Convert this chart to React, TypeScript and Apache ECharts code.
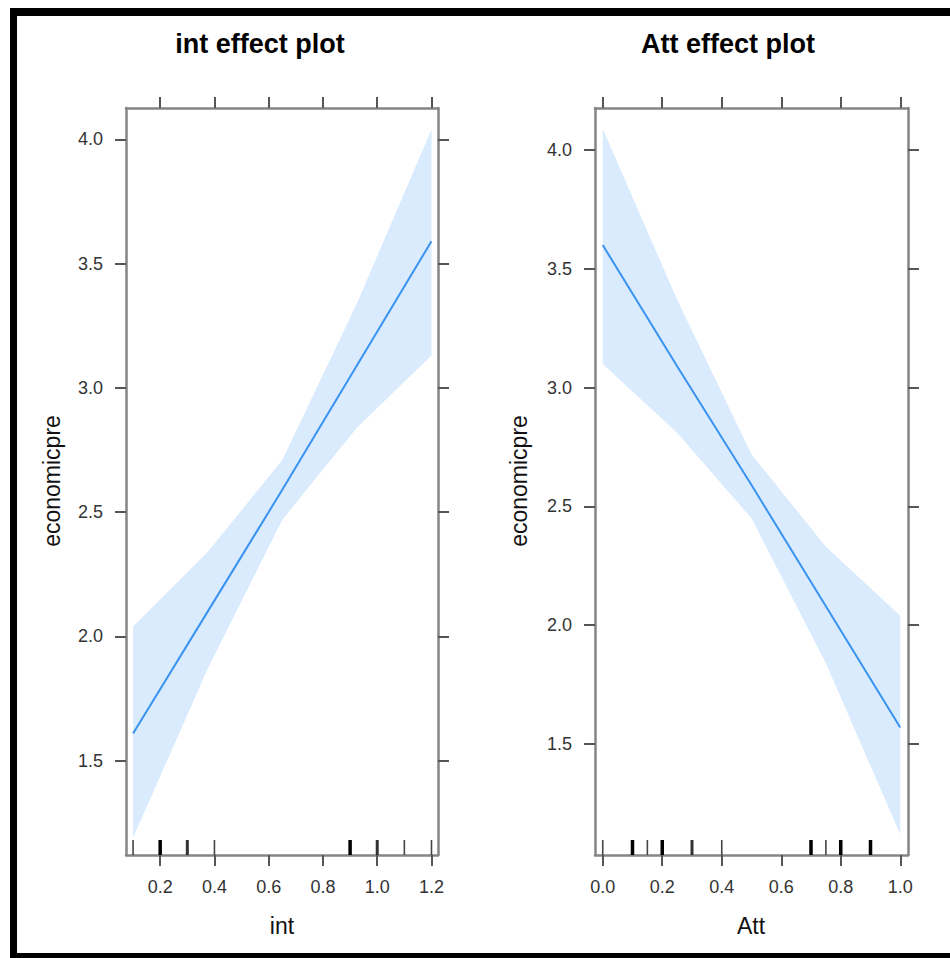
import React, { useEffect, useRef } from "react";
import * as echarts from "echarts";

// ---- int panel data ----
const intX = [0.1, 0.375, 0.65, 0.925, 1.2];
const intFit = [1.61, 2.1, 2.59, 3.09, 3.59];
const intUpper = [2.04, 2.34, 2.71, 3.34, 4.04];
const intLower = [1.19, 1.87, 2.47, 2.84, 3.13];
const intRug = [0.1, 0.2, 0.3, 0.4, 0.9, 1.0, 1.1, 1.2];
const intRugCount = [1, 3, 2, 1, 3, 2, 1, 1];
const intTicks = [0.2, 0.4, 0.6, 0.8, 1.0, 1.2];

// ---- Att panel data ----
const attX = [0, 0.25, 0.5, 0.75, 1.0];
const attFit = [3.6, 3.09, 2.59, 2.08, 1.57];
const attUpper = [4.09, 3.37, 2.72, 2.33, 2.04];
const attLower = [3.1, 2.81, 2.45, 1.84, 1.12];
const attRug = [0, 0.1, 0.15, 0.2, 0.3, 0.4, 0.7, 0.75, 0.8, 0.9];
const attRugCount = [1, 3, 1, 3, 2, 1, 3, 1, 3, 3];
const attTicks = [0, 0.2, 0.4, 0.6, 0.8, 1.0];

const yTicks = [1.5, 2.0, 2.5, 3.0, 3.5, 4.0];

const FONT = '"Liberation Sans", Arial, Helvetica, sans-serif';
const FRAME = "#858585";
const TICK = "#555555";

function axisBase(min: number, max: number, ticks: number[], showLabels: boolean, extra: any) {
  return {
    type: "value",
    min,
    max,
    splitLine: { show: false },
    axisLine: { show: true, onZero: false, lineStyle: { color: FRAME, width: 2.5 } },
    axisTick: { show: true, inside: false, length: 11, customValues: ticks, lineStyle: { color: TICK, width: 2 } },
    axisLabel: {
      show: showLabels,
      customValues: ticks,
      formatter: (v: number) => Number(v).toFixed(1),
      color: "#333333",
      fontFamily: FONT,
      fontSize: 18,
      margin: 23,
    },
    ...extra,
  };
}

function bandSeries(xs: number[], lo: number[], hi: number[], idx: number) {
  return {
    type: "custom",
    xAxisIndex: idx,
    yAxisIndex: idx,
    silent: true,
    z: 1,
    data: [[xs[0], lo[0]]],
    renderItem: (_params: any, api: any) => {
      const pts: number[][] = [];
      for (let i = 0; i < xs.length; i++) pts.push(api.coord([xs[i], hi[i]]));
      for (let i = xs.length - 1; i >= 0; i--) pts.push(api.coord([xs[i], lo[i]]));
      return { type: "polygon", shape: { points: pts }, style: { fill: "#d9ebfd", stroke: null } };
    },
  };
}

function lineSeries(xs: number[], ys: number[], idx: number) {
  return {
    type: "line",
    xAxisIndex: idx,
    yAxisIndex: idx,
    symbol: "none",
    silent: true,
    z: 3,
    lineStyle: { color: "#3a93f0", width: 2 },
    data: xs.map((x, i) => [x, ys[i]]),
  };
}

function rugSeries(vals: number[], counts: number[], idx: number, yRef: number) {
  return {
    type: "custom",
    xAxisIndex: idx,
    yAxisIndex: idx,
    silent: true,
    z: 4,
    data: vals.map((v, i) => [v, counts[i]]),
    renderItem: (params: any, api: any) => {
      const v = api.value(0);
      const c = api.value(1);
      const p = api.coord([v, yRef]);
      const yb = params.coordSys.y + params.coordSys.height;
      const w = c >= 3 ? 3.5 : c === 2 ? 3 : 1.6;
      const col = c >= 3 ? "#000000" : c === 2 ? "#333333" : "#444444";
      return {
        type: "line",
        shape: { x1: p[0], y1: yb, x2: p[0], y2: yb - 15 },
        style: { stroke: col, lineWidth: w },
      };
    },
  };
}

export default function App() {
  const ref = useRef<HTMLDivElement>(null);
  useEffect(() => {
    document.body.style.margin = "0";
    if (!ref.current) return;
    const chart = echarts.init(ref.current, null, { renderer: "svg" });
    const lxMin = 0.074, lxMax = 1.224, lyMin = 1.121, lyMax = 4.126;
    const rxMin = -0.026, rxMax = 1.026, ryMin = 1.033, ryMax = 4.177;
    const option: any = {
      animation: false,
      backgroundColor: "#ffffff",
      grid: [
        { left: 126, top: 108, width: 312, height: 747 },
        { left: 595, top: 108, width: 313, height: 747 },
      ],
      xAxis: [
        axisBase(lxMin, lxMax, intTicks, true, { gridIndex: 0, position: "bottom" }),
        axisBase(lxMin, lxMax, intTicks, false, { gridIndex: 0, position: "top" }),
        axisBase(rxMin, rxMax, attTicks, true, { gridIndex: 1, position: "bottom" }),
        axisBase(rxMin, rxMax, attTicks, false, { gridIndex: 1, position: "top" }),
      ],
      yAxis: [
        axisBase(lyMin, lyMax, yTicks, true, { gridIndex: 0, position: "left" }),
        axisBase(lyMin, lyMax, yTicks, false, { gridIndex: 0, position: "right" }),
        axisBase(ryMin, ryMax, yTicks, true, { gridIndex: 1, position: "left" }),
        axisBase(ryMin, ryMax, yTicks, false, { gridIndex: 1, position: "right" }),
      ],
      series: [
        bandSeries(intX, intLower, intUpper, 0),
        lineSeries(intX, intFit, 0),
        rugSeries(intRug, intRugCount, 0, 2),
        bandSeries(attX, attLower, attUpper, 2),
        lineSeries(attX, attFit, 2),
        rugSeries(attRug, attRugCount, 2, 2),
      ],
      graphic: [
        { type: "rect", shape: { x: 10, y: 8, width: 940, height: 8 }, style: { fill: "#000" }, silent: true },
        { type: "rect", shape: { x: 10, y: 8, width: 7, height: 950 }, style: { fill: "#000" }, silent: true },
        { type: "rect", shape: { x: 10, y: 953, width: 940, height: 5 }, style: { fill: "#000" }, silent: true },
        {
          type: "text", x: 260, y: 44,
          style: { text: "int effect plot", fontFamily: FONT, fontSize: 27, fontWeight: "bold", fill: "#000", align: "center", verticalAlign: "middle" },
        },
        {
          type: "text", x: 728, y: 44,
          style: { text: "Att effect plot", fontFamily: FONT, fontSize: 27, fontWeight: "bold", fill: "#000", align: "center", verticalAlign: "middle" },
        },
        {
          type: "text", x: 282, y: 926,
          style: { text: "int", fontFamily: FONT, fontSize: 23, fill: "#111", align: "center", verticalAlign: "middle" },
        },
        {
          type: "text", x: 751, y: 926,
          style: { text: "Att", fontFamily: FONT, fontSize: 23, fill: "#111", align: "center", verticalAlign: "middle" },
        },
        {
          type: "text", x: 52, y: 481, rotation: Math.PI / 2,
          style: { text: "economicpre", fontFamily: FONT, fontSize: 23, fill: "#111", align: "center", verticalAlign: "middle" },
        },
        {
          type: "text", x: 519, y: 481, rotation: Math.PI / 2,
          style: { text: "economicpre", fontFamily: FONT, fontSize: 23, fill: "#111", align: "center", verticalAlign: "middle" },
        },
      ],
    };
    chart.setOption(option);
    return () => chart.dispose();
  }, []);
  return <div ref={ref} style={{ width: 950, height: 958 }} />;
}
